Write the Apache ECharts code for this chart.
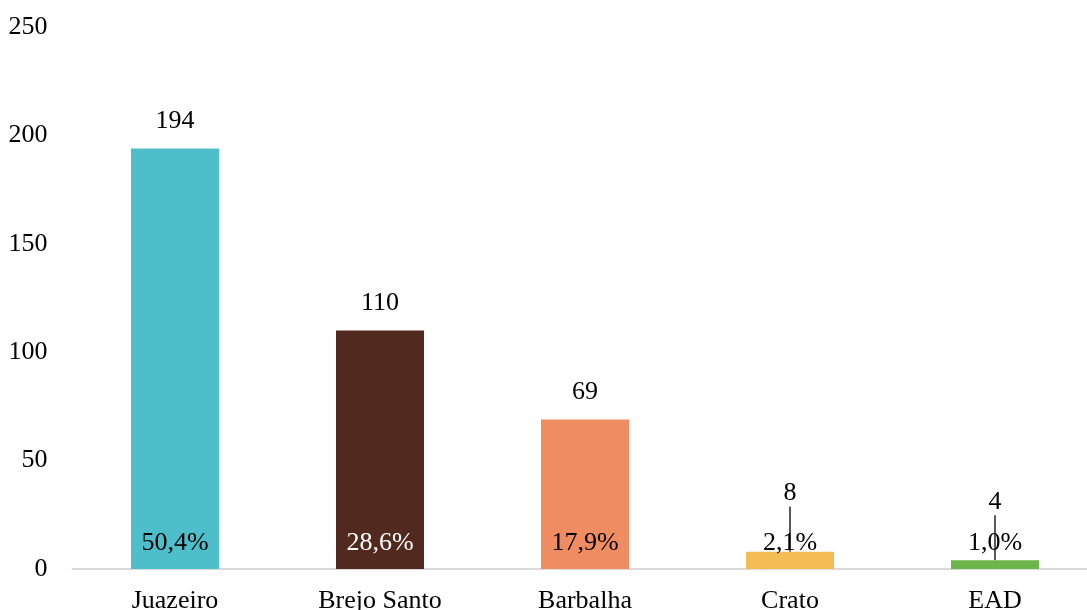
<!DOCTYPE html>
<html><head><meta charset="utf-8">
<script src="https://cdn.jsdelivr.net/npm/echarts@6/dist/echarts.min.js"></script>
<style>html,body{margin:0;padding:0;background:#fff}#c{width:1087px;height:610px}</style>
</head><body><div id="c"></div>
<script>
const categories = ['Juazeiro', 'Brejo Santo', 'Barbalha', 'Crato', 'EAD'];
const values = [194, 110, 69, 8, 4];
const percents = ['50,4%', '28,6%', '17,9%', '2,1%', '1,0%'];
const colors = ['#4FBECB', '#52291E', '#EF8C62', '#F4BC55', '#6DB649'];
const pctColors = ['#000', '#fff', '#000', '#000', '#000'];
const yTicks = [0, 50, 100, 150, 200, 250];

const font = 'Liberation Serif, Times New Roman, serif';
const chart = echarts.init(document.getElementById('c'));
chart.setOption({
  animation: false,
  grid: {left: 72.5, top: 27, right: -10.5, bottom: 41, containLabel: false, outerBoundsMode: 'none'},
  xAxis: {
    type: 'category', data: categories,
    axisLine: {lineStyle: {color: '#D9D9D9', width: 2}},
    axisTick: {show: false},
    axisLabel: {color: '#000', fontFamily: font, fontSize: 26, margin: 19}
  },
  yAxis: {
    type: 'value', min: yTicks[0], max: yTicks[yTicks.length - 1], interval: 50,
    axisLine: {show: false}, axisTick: {show: false}, splitLine: {show: false},
    axisLabel: {color: '#000', fontFamily: font, fontSize: 26, margin: 25}
  },
  series: [
    {
      type: 'bar', barWidth: 88,
      data: values.map((v, i) => ({
        value: v, itemStyle: {color: colors[i]},
        labelLine: {show: i >= 3, lineStyle: {color: '#000', width: 1.3, opacity: 1}}
      })),
      labelLine: {lineStyle: {color: '#000', width: 1.3, opacity: 1}},
      label: {show: true, position: 'top', distance: 14, color: '#000', fontFamily: font, fontSize: 26},
      labelLayout: function (p) {
        if (p.dataIndex >= 3) return {dy: -31};
        return {};
      }
    },
    {
      type: 'bar', barWidth: 88, barGap: '-100%', silent: true,
      data: values.map((v, i) => ({value: v, label: {color: pctColors[i]}})),
      itemStyle: {color: 'rgba(0,0,0,0)'},
      label: {show: true, position: 'insideBottom', distance: 13, fontFamily: font, fontSize: 26,
        formatter: p => percents[p.dataIndex]}
    }
  ]
});
</script></body></html>
